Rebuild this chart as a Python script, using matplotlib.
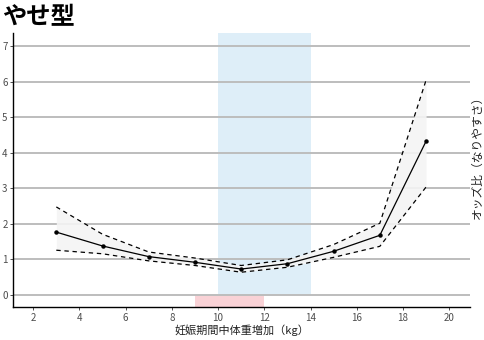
import numpy as np
import matplotlib.pyplot as plt

plt.rcParams['font.family'] = ['Noto Sans CJK JP', 'DejaVu Sans']

# weight gain (kg) and odds ratio with its confidence band
gain = [3, 5, 7, 9, 11, 13, 15, 17, 19]
odds = [1.76, 1.37, 1.07, 0.91, 0.72, 0.87, 1.22, 1.67, 4.32]
upper = [2.47, 1.70, 1.20, 1.03, 0.82, 0.98, 1.41, 2.01, 6.04]
lower = [1.25, 1.15, 0.95, 0.82, 0.63, 0.77, 1.05, 1.36, 3.03]

recommended = (10, 14)
guideline = (9, 12)

xticks = [2, 4, 6, 8, 10, 12, 14, 16, 18, 20]
yticks = [0, 1, 2, 3, 4, 5, 6, 7]
xlim = (1.13, 20.9)
ylim = (-0.35, 7.37)

fig = plt.figure(figsize=(4.85, 3.4), dpi=100)
ax = fig.add_axes([0.027, 0.097, 0.942, 0.806])

ax.set_xlim(*xlim)
ax.set_ylim(*ylim)

# shaded ranges
ax.fill_between(recommended, 0, ylim[1], color='#deeef8', lw=0, zorder=0)
ax.fill_between(guideline, ylim[0], 0, color='#f9d2d6', lw=0, zorder=0)

for y in yticks:
    ax.axhline(y, color='#bdbdbd', lw=1.4, zorder=1)

ax.fill_between(gain, lower, upper, color='#f4f4f4', lw=0, zorder=2, alpha=0.9)
ax.plot(gain, upper, color='black', lw=0.9, ls=(0, (3.5, 3)), zorder=3)
ax.plot(gain, lower, color='black', lw=0.9, ls=(0, (3.5, 3)), zorder=3)
ax.plot(gain, odds, color='black', lw=0.9, marker='o', ms=2.2, zorder=4)

ax.set_xticks(xticks)
ax.set_yticks(yticks)
ax.tick_params(labelsize=7, labelcolor='#4d4d4d', length=2.5, width=0.6,
               pad=1.5, colors='#333333')
ax.tick_params(axis='both', labelcolor='#4d4d4d')
for side in ['top', 'right']:
    ax.spines[side].set_visible(False)
for side in ['left', 'bottom']:
    ax.spines[side].set_linewidth(1.0)
    ax.spines[side].set_color('black')

ax.set_xlabel('妊娠期間中体重増加（kg）', fontsize=8, labelpad=1, color='#222222')
fig.text(0.004, 0.985, 'やせ型', fontsize=17.5, fontweight='bold', va='top', ha='left')
fig.text(0.985, 0.545, 'オッズ比（なりやすさ）', fontsize=8.5, rotation=90,
         va='center', ha='center', color='#222222')

fig.savefig('out.png', dpi=100)
